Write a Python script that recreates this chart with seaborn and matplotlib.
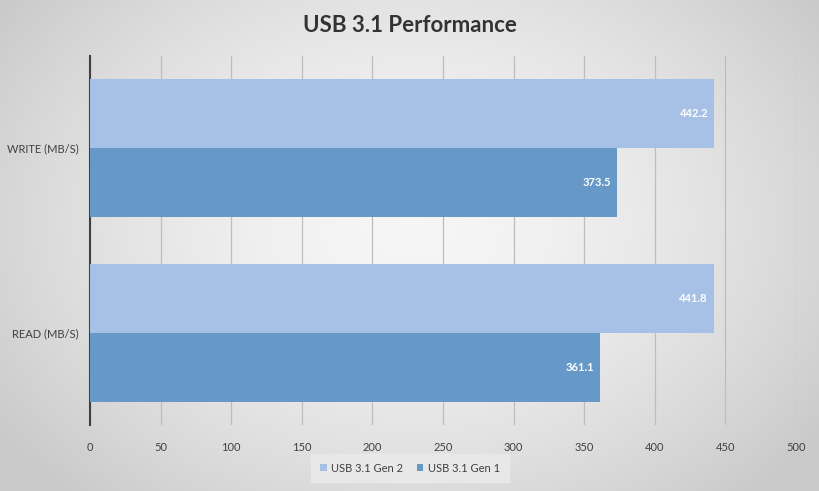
import numpy as np
import pandas as pd
import matplotlib
matplotlib.use("Agg")
import matplotlib.pyplot as plt
import seaborn as sns

categories = ["WRITE (MB/S)", "READ (MB/S)"]
series = ["USB 3.1 Gen 2", "USB 3.1 Gen 1"]
gen2_values = [442.2, 441.8]
gen1_values = [373.5, 361.1]
x_ticks = [0, 50, 100, 150, 200, 250, 300, 350, 400, 450, 500]
title = "USB 3.1 Performance"

df = pd.DataFrame({
    "category": categories * 2,
    "series": [series[0]] * 2 + [series[1]] * 2,
    "value": gen2_values + gen1_values,
})

sns.set_theme(style="white")
plt.rcParams['font.family'] = ['Lato', 'DejaVu Sans']

W, H = 820, 491
fig = plt.figure(figsize=(W / 100, H / 100), dpi=100)

# radial gradient background
bg = fig.add_axes([0, 0, 1, 1], zorder=-10)
yy, xx = np.mgrid[0:H, 0:W]
cx, cy = W * 0.5, H * 0.45
r = np.sqrt(((xx - cx) / (W * 0.6)) ** 2 + ((yy - cy) / (H * 0.75)) ** 2)
r = np.clip(r, 0, 1)
val = 0.965 - 0.17 * r ** 1.6
img = np.dstack([val, val, val])
bg.imshow(img, aspect="auto", extent=[0, 1, 0, 1])
bg.axis("off")

ax = fig.add_axes([90 / W, 1 - 425 / H, (796 - 90) / W, (425 - 56) / H])
ax.patch.set_alpha(0)

palette = {series[0]: "#a6c1e5", series[1]: "#6698c8"}
sns.barplot(data=df, y="category", x="value", hue="series", order=categories,
            hue_order=series, palette=palette, width=0.75, orient="h",
            saturation=1, ax=ax, edgecolor="none", zorder=3)

for cont in ax.containers:
    ax.bar_label(cont, fmt="%.1f", padding=-25, color="white", fontsize=8,
                 fontweight="bold")

ax.set_xlim(0, 500)
ax.set_ylim(1.5, -0.5)
ax.set_xticks(x_ticks)
ax.set_xticklabels([str(t) for t in x_ticks])
ax.grid(axis="x", color="#bdbdbd", linewidth=0.9, zorder=0)
ax.set_axisbelow(True)
ax.tick_params(axis="x", length=6, color="#bdbdbd", labelsize=8, labelcolor="#404040", pad=6)
ax.tick_params(axis="y", length=0, labelsize=8, labelcolor="#404040", pad=8)
ax.set_xlabel("")
ax.set_ylabel("")
for s in ["top", "right", "bottom"]:
    ax.spines[s].set_visible(False)
ax.spines["left"].set_color("#404040")
ax.spines["left"].set_linewidth(1.5)

leg = ax.legend(loc="center", bbox_to_anchor=(410 / W, 1 - 468 / H),
                bbox_transform=fig.transFigure, ncol=2, frameon=True,
                fontsize=8, handlelength=0.6, handleheight=0.6,
                handletextpad=0.4, columnspacing=1.2, borderpad=0.5)
leg.get_frame().set_facecolor("#ebebeb")
leg.get_frame().set_edgecolor("#ebebeb")
leg.get_frame().set_boxstyle("square")
for t in leg.get_texts():
    t.set_color("#404040")

fig.text(410 / W, 1 - 26 / H, title, ha="center", va="center", fontsize=16,
         fontweight="bold", color="#333333")

fig.savefig("out.png", dpi=100)
